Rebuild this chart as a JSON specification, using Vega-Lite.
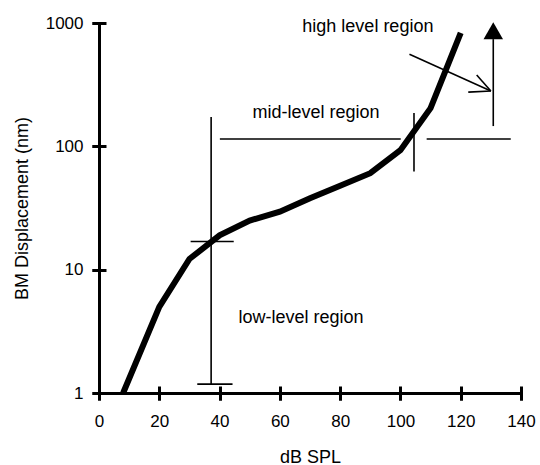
{
  "$schema": "https://vega.github.io/schema/vega-lite/v6.json",
  "width": 422,
  "height": 370,
  "autosize": {"type": "none"},
  "padding": {"left": 99, "top": 23, "right": 19, "bottom": 72},
  "background": "white",
  "config": {
    "view": {"stroke": null},
    "font": "Liberation Sans",
    "axis": {"grid": false, "domainColor": "black", "tickColor": "black", "labelColor": "black", "titleColor": "black", "labelFont": "Liberation Sans", "titleFont": "Liberation Sans", "titleFontWeight": "normal"}
  },
  "datasets": {
    "curve": [
      {"spl": 8, "disp": 1},
      {"spl": 20, "disp": 5},
      {"spl": 30, "disp": 12.2},
      {"spl": 40, "disp": 19},
      {"spl": 50, "disp": 25},
      {"spl": 60, "disp": 29.5},
      {"spl": 70, "disp": 38},
      {"spl": 80, "disp": 48},
      {"spl": 90, "disp": 60.5},
      {"spl": 100, "disp": 93},
      {"spl": 110, "disp": 204},
      {"spl": 120, "disp": 830}
    ],
    "segments": [
      {"x1": 37.2, "y1": 1.18, "x2": 37.2, "y2": 173},
      {"x1": 32.6, "y1": 1.18, "x2": 44.3, "y2": 1.18},
      {"x1": 30.4, "y1": 16.9, "x2": 44.7, "y2": 16.9},
      {"x1": 40.1, "y1": 114.8, "x2": 100.1, "y2": 114.8},
      {"x1": 108.7, "y1": 114.8, "x2": 136.6, "y2": 114.8},
      {"x1": 104.5, "y1": 62.4, "x2": 104.5, "y2": 186},
      {"x1": 103, "y1": 558, "x2": 130, "y2": 281},
      {"x1": 122.5, "y1": 275, "x2": 130, "y2": 281},
      {"x1": 125.3, "y1": 379, "x2": 130, "y2": 281},
      {"x1": 130.8, "y1": 146, "x2": 130.8, "y2": 740}
    ],
    "heads": [
      {"x": 130.8, "y": 866}
    ],
    "labels": [
      {"x": 89.2, "y": 930, "label": "high level region"},
      {"x": 72, "y": 186.6, "label": "mid-level region"},
      {"x": 67, "y": 4.06, "label": "low-level region"}
    ]
  },
  "resolve": {"axis": {"x": "independent", "y": "independent"}},
  "layer": [
    {
      "data": {"name": "curve"},
      "mark": {"type": "line", "color": "black", "strokeWidth": 6, "clip": false},
      "encoding": {
        "x": {"field": "spl", "type": "quantitative", "scale": {"domain": [0, 140], "nice": false, "zero": false},
          "axis": {"orient": "bottom", "title": "dB SPL", "values": [0, 20, 40, 60, 80, 100, 120, 140], "domainWidth": 3, "tickWidth": 3, "tickSize": 7, "labelFontSize": 17, "labelPadding": 13, "titleFontSize": 18, "titlePadding": 19, "labelFlush": false}},
        "y": {"field": "disp", "type": "quantitative", "scale": {"type": "log", "domain": [1, 1000], "nice": false},
          "axis": {"orient": "left", "title": "BM Displacement (nm)", "values": [1, 10, 100, 1000], "format": "d", "domainWidth": 3, "tickWidth": 3, "tickSize": 7, "labelFontSize": 17, "labelPadding": 9, "titleFontSize": 18, "titlePadding": 14, "labelFlush": false}}
      }
    },
    {
      "data": {"name": "segments"},
      "mark": {"type": "rule", "color": "black", "strokeWidth": 1.6},
      "encoding": {
        "x": {"field": "x1", "type": "quantitative",
          "axis": {"orient": "bottom", "domain": false, "labels": false, "title": null, "values": [0, 20, 40, 60, 80, 100, 120, 140], "tickColor": "black", "tickWidth": 3, "tickSize": 14, "offset": -7}},
        "x2": {"field": "x2"},
        "y": {"field": "y1", "type": "quantitative",
          "axis": {"orient": "left", "domain": false, "labels": false, "title": null, "values": [1, 10, 100, 1000], "tickColor": "black", "tickWidth": 3, "tickSize": 14, "offset": -7}},
        "y2": {"field": "y2"}
      }
    },
    {
      "data": {"name": "heads"},
      "mark": {"type": "point", "shape": "triangle-up", "filled": true, "color": "black", "size": 380, "opacity": 1},
      "encoding": {
        "x": {"field": "x", "type": "quantitative", "axis": null},
        "y": {"field": "y", "type": "quantitative", "axis": null}
      }
    },
    {
      "data": {"name": "labels"},
      "mark": {"type": "text", "font": "Liberation Sans", "fontSize": 18, "color": "black", "align": "center", "baseline": "middle"},
      "encoding": {
        "x": {"field": "x", "type": "quantitative", "axis": null},
        "y": {"field": "y", "type": "quantitative", "axis": null},
        "text": {"field": "label"}
      }
    }
  ]
}
